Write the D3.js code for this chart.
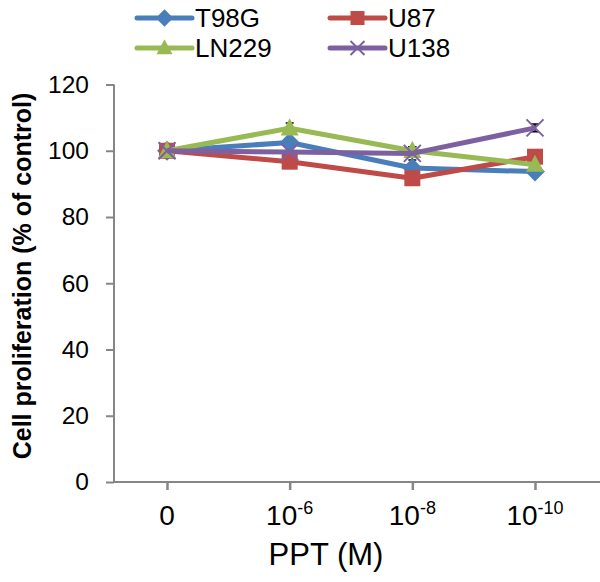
<!DOCTYPE html>
<html>
<head>
<meta charset="utf-8">
<script src="https://cdn.jsdelivr.net/npm/d3@7"></script>
<style>
body { margin: 0; background: #fff; }
text { font-family: Arial, "Liberation Sans", sans-serif; }
</style>
</head>
<body>
<div id="canvas"></div>
<script>
// DATA -----------------------------------------------------
var categories = ["0", "-6", "-8", "-10"];
var seriesNames = ["T98G", "U87", "LN229", "U138"];
var t98g = [100, 102.5, 94.8, 93.7];
var u87 = [100, 96.7, 91.7, 98.2];
var ln229 = [100, 106.8, 100, 95.8];
var u138 = [100, 99.6, 99.2, 106.9];
var errT98g = [0.8, 1.0, 1.0, 0.8];
var errU87 = [0.8, 1.0, 1.0, 0.8];
var errLn229 = [0.8, 1.6, 1.2, 0.8];
var errU138 = [0.8, 1.0, 2.0, 1.2];
var yTicks = [0, 20, 40, 60, 80, 100, 120];

var colors = ["#4a7ebb", "#be4b48", "#98b954", "#7d60a0"];
var shapes = ["diamond", "square", "triangle", "cross"];

var series = seriesNames.map((n, i) => ({
  name: n,
  values: [t98g, u87, ln229, u138][i],
  errs: [errT98g, errU87, errLn229, errU138][i],
  color: colors[i],
  shape: shapes[i]
}));

// STRUCTURE ------------------------------------------------
var W = 600, H = 582;
var svg = d3.select("#canvas").append("svg")
  .attr("width", W).attr("height", H);

var axisColor = "#868686";
var fontFam = "Arial, 'Liberation Sans', sans-serif";

var yScale = d3.scaleLinear().domain([0, 120]).range([482, 84.5]);
var xScale = d3.scalePoint().domain(categories).range([167, 535]);
var xLeft = 114;

// axes
var yAxis = svg.append("g")
  .attr("transform", `translate(${xLeft},0)`)
  .call(d3.axisLeft(yScale).tickValues(yTicks).tickSize(8).tickPadding(17));
yAxis.select(".domain").attr("stroke", axisColor).attr("stroke-width", 2)
  .attr("d", `M0,${yScale(120)}V${yScale(0)}`);
yAxis.selectAll(".tick line").attr("stroke", axisColor).attr("stroke-width", 2);
yAxis.selectAll(".tick text").attr("font-size", 24.5).attr("fill", "#000")
  .attr("font-family", fontFam);

var xAxis = svg.append("g")
  .attr("transform", `translate(0,${yScale(0)})`)
  .call(d3.axisBottom(xScale).tickSize(8).tickFormat(""));
xAxis.select(".domain").attr("stroke", axisColor).attr("stroke-width", 2)
  .attr("d", `M${xLeft},0H${W}`);
xAxis.selectAll(".tick line").attr("stroke", axisColor).attr("stroke-width", 2.5);

// x tick labels with superscripts
categories.forEach(c => {
  var t = svg.append("text")
    .attr("x", xScale(c))
    .attr("y", 525)
    .attr("text-anchor", "middle")
    .attr("font-size", 28)
    .attr("fill", "#000");
  if (c === "0") {
    t.text("0");
  } else {
    t.append("tspan").text("10");
    t.append("tspan").attr("dy", -11).attr("font-size", 18).text(c);
  }
});

// axis titles
svg.append("text")
  .attr("x", 326).attr("y", 565)
  .attr("text-anchor", "middle")
  .attr("font-size", 31)
  .text("PPT (M)");

svg.append("text")
  .attr("transform", `translate(31,${276}) rotate(-90)`)
  .attr("text-anchor", "middle")
  .attr("font-size", 25)
  .attr("font-weight", "bold")
  .text("Cell proliferation (% of control)");

// markers
function drawMarker(g, shape, color, x, y, s) {
  if (shape === "square") {
    g.append("rect").attr("x", x - s / 2).attr("y", y - s / 2)
      .attr("width", s).attr("height", s).attr("fill", color);
  } else if (shape === "diamond") {
    var d = s * 0.62;
    g.append("path").attr("d", `M${x},${y - d}L${x + d},${y}L${x},${y + d}L${x - d},${y}Z`)
      .attr("fill", color);
  } else if (shape === "triangle") {
    var h = s * 1.0;
    g.append("path").attr("d", `M${x},${y - h * 0.62}L${x + s / 2 + 1},${y + h * 0.45}L${x - s / 2 - 1},${y + h * 0.45}Z`)
      .attr("fill", color);
  } else if (shape === "cross") {
    var c = s / 2;
    g.append("path").attr("d", `M${x - c},${y - c}L${x + c},${y + c}M${x - c},${y + c}L${x + c},${y - c}`)
      .attr("stroke", color).attr("stroke-width", 2);
  }
}

var line = d3.line()
  .x((d, i) => xScale(categories[i]))
  .y(d => yScale(d));

var plot = svg.append("g");

// error bars
series.forEach(s => {
  s.values.forEach((v, i) => {
    var x = xScale(categories[i]);
    var e = s.errs[i];
    plot.append("path")
      .attr("d", `M${x},${yScale(v - e)}V${yScale(v + e)}M${x - 4},${yScale(v + e)}H${x + 4}M${x - 4},${yScale(v - e)}H${x + 4}`)
      .attr("stroke", "#000").attr("stroke-width", 1.5).attr("fill", "none");
  });
});

series.forEach(s => {
  var g = plot.append("g");
  g.append("path")
    .datum(s.values)
    .attr("d", line)
    .attr("fill", "none")
    .attr("stroke", s.color)
    .attr("stroke-width", 5)
    .attr("stroke-linejoin", "round");
  s.values.forEach((v, i) => {
    drawMarker(g, s.shape, s.color, xScale(categories[i]), yScale(v), s.shape === "cross" ? 17 : 16);
  });
});

// legend
var legendPos = [[137, 18], [330, 18], [137, 48], [330, 48]];
seriesNames.forEach((name, k) => {
  var s = series[k];
  var p = legendPos[k];
  var g = svg.append("g");
  g.append("line")
    .attr("x1", p[0]).attr("x2", p[0] + 55)
    .attr("y1", p[1]).attr("y2", p[1])
    .attr("stroke", s.color).attr("stroke-width", 5)
    .attr("stroke-linecap", "round");
  drawMarker(g, s.shape, s.color, p[0] + 27.5, p[1], 14);
  g.append("text")
    .attr("x", p[0] + 58).attr("y", p[1] + 9)
    .attr("font-size", 26)
    .text(s.name);
});
</script>
</body>
</html>
